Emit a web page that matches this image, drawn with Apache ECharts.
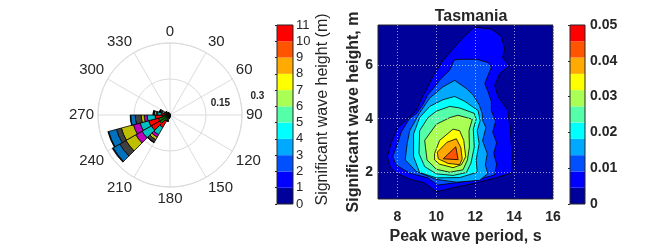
<!DOCTYPE html>
<html><head><meta charset="utf-8">
<script src="https://cdn.jsdelivr.net/npm/echarts@6/dist/echarts.min.js"></script>
<style>html,body{margin:0;padding:0;background:#fff}#c{width:664px;height:250px}</style>
</head><body><div id="c"></div>
<script>
const FF = '"Liberation Sans", Arial, sans-serif';
const TXT = '#262626';

// ---- wave rose data: 15-degree direction bins (start bearing), stacked by Hs class
const dirBins = ['0','15','30','45','60','75','90','105','120','135','150','165','180','195','210','225','240','255','270','285','300','315','330','345'];
const hs01 = [0.001,0.001,0.001,0.001,0.001,0.001,0.001,0.001,0.001,0.001,0.001,0.001,0.001,0.002,0.002,0.003,0.003,0.003,0.002,0.001,0.001,0.001,0.001,0.001];
const hs12 = [0.001,0.001,0.001,0.001,0.001,0.001,0.001,0.001,0.001,0.002,0.002,0.003,0.005,0.008,0.028,0.047,0.047,0.030,0.020,0.012,0.006,0.004,0.003,0.002];
const hs23 = [0.001,0,0,0,0,0,0,0,0,0.001,0.001,0.002,0.003,0.006,0.030,0.040,0.042,0.029,0.015,0.012,0.005,0.003,0.002,0.001];
const hs34 = [0,0,0,0,0,0,0,0,0,0,0,0.001,0.002,0.005,0.035,0.045,0.037,0.033,0.015,0.010,0.004,0.002,0.001,0.001];
const hs45 = [0,0,0,0,0,0,0,0,0,0,0,0,0.001,0.003,0.012,0.030,0.029,0.0125,0.005,0.003,0.002,0.001,0,0];
const hs56 = [0,0,0,0,0,0,0,0,0,0,0,0,0,0.002,0.012,0.047,0.052,0.0125,0.008,0.004,0.002,0.001,0,0];
const hs67 = [0,0,0,0,0,0,0,0,0,0,0,0,0,0.001,0.012,0.030,0.021,0.025,0.004,0.002,0.001,0,0,0];
const hs78 = [0,0,0,0,0,0,0,0,0,0,0,0,0,0,0.002,0.032,0.034,0.019,0.001,0.001,0,0,0,0];
const hs8p = [0,0,0,0,0,0,0,0,0,0,0,0,0,0,0,0.004,0.003,0.002,0,0,0,0,0,0];
const roseSeries = [hs01, hs12, hs23, hs34, hs45, hs56, hs67, hs78, hs8p];
const roseColors = ['#0000ff','#008000','#ff0000','#00bfbf','#bf00bf','#bfbf00','#404040','#0072bd','#1a1a1a'];
const roseAngleTicks = [0,30,60,90,120,150,180,210,240,270,300,330];
const roseRadiusLabels = [0.15, 0.3];

// ---- colour scale
const colormap = ['#00009a','#0000ff','#0050ff','#00a8ff','#00ffff','#55ffaa','#aaff55','#ffff00','#ffaa00','#ff5500','#ff0000'];
const cb1Edges = [0,1,2,3,4,5,6,7,8,9,10,11];
const cb2Edges = [0,0.004545,0.009091,0.013636,0.018182,0.022727,0.027273,0.031818,0.036364,0.040909,0.045455,0.05];

// ---- contour outlines (Tp, Hs), region above each level edge
const lev1 = [[11.96,7.42],[11.4,7.05],[10.76,6.53],[10.33,6.16],[9.9,5.68],[9.56,5.19],[9.21,4.71],[8.96,4.3],[8.5,3.98],[8.01,3.67],[7.67,3.06],[7.48,2.58],[7.62,2.2],[7.94,1.97],[8.6,1.75],[9.4,1.6],[9.98,1.28],[10.5,1.35],[10.84,1.42],[12.06,1.6],[13.09,1.8],[13.86,1.97],[13.9,2.58],[13.8,3.67],[13.65,4.35],[13.17,4.83],[13.0,5.25],[13.26,5.68],[13.77,5.98],[13.4,6.28],[13.52,6.59],[13.35,7.07],[12.83,7.35]];
const lev2 = [[10.93,6.2],[10.67,5.8],[10.24,5.5],[9.98,5.25],[9.56,4.89],[9.3,4.52],[9.0,4.2],[8.61,4.0],[8.19,3.49],[8.0,3.06],[7.76,2.58],[7.93,2.27],[8.61,1.97],[9.56,1.79],[10.07,1.52],[10.93,1.6],[12.0,1.7],[13.0,1.9],[13.1,2.3],[12.95,2.7],[13.1,3.1],[12.9,3.5],[13.05,3.9],[12.83,4.3],[12.83,4.64],[12.66,5.01],[12.49,5.31],[12.66,5.62],[12.83,5.92],[12.66,6.1],[12.06,6.22],[11.37,6.22]];
const lev3 = [[10.94,5.43],[11.54,5.13],[11.89,4.89],[12.2,4.52],[12.35,4.22],[12.4,3.91],[12.55,3.67],[12.38,3.18],[12.62,2.7],[12.52,2.27],[12.65,1.95],[12.23,1.7],[11.03,1.63],[10.0,1.73],[8.97,2.03],[8.4,2.46],[8.5,3.07],[8.63,3.55],[9.14,4.22],[9.66,4.77],[10.34,5.19]];
const lev4 = [[10.94,4.83],[11.46,4.65],[12.15,4.3],[12.25,3.92],[12.1,3.55],[12.2,3.07],[12.05,2.46],[12.1,2.0],[11.2,1.8],[10.0,1.79],[9.14,1.99],[8.83,2.58],[8.83,3.43],[9.14,4.04],[9.66,4.46],[10.34,4.71]];
const lev5 = [[10.69,4.46],[11.2,4.40],[11.95,4.2],[12.05,3.98],[11.9,3.61],[11.95,2.94],[11.78,2.34],[11.55,1.99],[10.86,1.88],[10.0,1.94],[9.4,2.21],[9.11,2.70],[9.14,3.55],[9.57,4.04],[10.0,4.28]];
const lev6 = [[11.11,4.13],[11.85,3.98],[11.68,3.55],[11.7,2.94],[11.6,2.46],[11.37,2.09],[10.69,2.0],[10.0,2.11],[9.52,2.46],[9.4,3.19],[10.0,3.79],[10.69,4.04]];
const lev7 = [[10.86,3.61],[11.2,3.55],[11.41,3.19],[11.51,2.58],[11.29,2.28],[10.86,2.17],[10.17,2.3],[9.91,2.46],[9.91,2.70],[10.17,3.19]];
const lev8 = [[11.03,3.25],[11.26,2.92],[11.33,2.5],[11.2,2.28],[10.6,2.33],[10.1,2.5],[10.05,2.75],[10.55,3.12]];
const lev9 = [[11.0,2.95],[11.12,2.47],[10.35,2.5]];
const contourLevels = [lev1, lev2, lev3, lev4, lev5, lev6, lev7, lev8, lev9];
const xTicks = [8,10,12,14,16];
const yTicks = [2,4,6];

function cbSeries(edges, xi) {
  return {
    type:'custom', xAxisIndex:xi, yAxisIndex:xi, silent:true,
    data: edges.slice(0,-1).map((e,i)=>[edges[i], edges[i+1]]),
    renderItem:function(params, api){
      const i = params.dataIndex;
      const a = api.coord([0, edges[i]]), b = api.coord([1, edges[i+1]]);
      return {type:'rect', shape:{x:a[0], y:b[1], width:b[0]-a[0], height:a[1]-b[1]}, style:{fill:colormap[i]}};
    }
  };
}

const option = {
  animation:false,
  backgroundColor:'#ffffff',
  title:{text:'Tasmania', left:466, top:4, textAlign:'center', textStyle:{fontSize:16, fontWeight:'bold', color:TXT, fontFamily:FF}},
  polar:[{center:[170,115], radius:72},{center:[170,115], radius:72}],
  angleAxis:[
    {polarIndex:0, type:'value', min:0, max:360, interval:30, startAngle:90, clockwise:true,
     axisLine:{show:true, lineStyle:{color:'#dcdcdc', width:1}}, axisTick:{show:false},
     splitLine:{show:true, lineStyle:{color:'#dcdcdc', width:1}},
     axisLabel:{margin:4, color:TXT, fontSize:15, fontFamily:FF, formatter:function(v){return roseAngleTicks.indexOf(v)>=0?String(v):'';}}},
    {polarIndex:1, type:'category', data:dirBins, startAngle:90, clockwise:true, show:false}
  ],
  radiusAxis:[
    {polarIndex:0, type:'value', min:0, max:0.3, interval:0.15, axisLine:{show:false}, axisTick:{show:false}, axisLabel:{show:false},
     splitLine:{show:true, lineStyle:{color:'#dcdcdc', width:1}}},
    {polarIndex:1, type:'value', min:0, max:0.3, show:false}
  ],
  grid:[
    {left:277, top:25, width:16, height:179, show:true, z:10, backgroundColor:'transparent', borderColor:TXT, borderWidth:1},
    {left:378, top:25, width:175, height:178, show:true, backgroundColor:colormap[0], borderColor:TXT, borderWidth:1},
    {left:570, top:25, width:15, height:179, show:true, z:10, backgroundColor:'transparent', borderColor:TXT, borderWidth:1}
  ],
  xAxis:[
    {gridIndex:0, type:'value', min:0, max:1, show:false},
    {gridIndex:1, type:'value', min:7, max:16, z:5,
     axisLine:{show:false}, axisTick:{show:false, customValues:xTicks},
     axisLabel:{customValues:xTicks, margin:11, fontSize:14, fontWeight:'bold', color:TXT, fontFamily:FF},
     splitLine:{show:true, lineStyle:{type:[1,2], color:'rgba(255,255,255,0.6)', width:1}},
     name:'Peak wave period, s', nameLocation:'middle', nameGap:30,
     nameTextStyle:{fontSize:16, fontWeight:'bold', color:TXT, fontFamily:FF}},
    {gridIndex:2, type:'value', min:0, max:1, show:false}
  ],
  yAxis:[
    {gridIndex:0, type:'value', min:0, max:11, interval:1, position:'right',
     axisLine:{show:false}, axisTick:{show:true, inside:true, length:2, lineStyle:{color:TXT}},
     axisLabel:{margin:3, fontSize:13, color:TXT, fontFamily:FF}, splitLine:{show:false},
     name:'Significant wave height (m)', nameLocation:'middle', nameRotate:90, nameGap:19,
     nameTextStyle:{fontSize:16, color:TXT, fontFamily:FF, padding:[0,0,0,10]}},
    {gridIndex:1, type:'value', min:1, max:7.5, z:5,
     axisLine:{show:false}, axisTick:{show:false, customValues:yTicks},
     axisLabel:{customValues:yTicks, margin:5, fontSize:14, fontWeight:'bold', color:TXT, fontFamily:FF},
     splitLine:{show:true, lineStyle:{type:[1,2], color:'rgba(255,255,255,0.6)', width:1}},
     name:'Significant wave height, m', nameLocation:'middle', nameGap:12,
     nameTextStyle:{fontSize:16, fontWeight:'bold', color:TXT, fontFamily:FF}},
    {gridIndex:2, type:'value', min:0, max:0.05, interval:0.01, position:'right',
     axisLine:{show:false}, axisTick:{show:true, inside:true, length:2, lineStyle:{color:TXT}},
     axisLabel:{margin:5, fontSize:14, fontWeight:'bold', color:TXT, fontFamily:FF,
       formatter:function(v){return v===0?'0':v.toFixed(2);}}, splitLine:{show:false}}
  ],
  series: [
    ...roseSeries.map(function(d,k){return {type:'bar', coordinateSystem:'polar', polarIndex:1, stack:'rose', data:d,
      barCategoryGap:'0%', itemStyle:{color:roseColors[k], borderColor:'#000', borderWidth:0.8}, silent:true};}),
    cbSeries(cb1Edges, 0),
    {type:'custom', xAxisIndex:1, yAxisIndex:1, silent:true,
     data: contourLevels.map(function(p,i){return [i];}),
     renderItem:function(params, api){
       const i = params.dataIndex;
       const pts = contourLevels[i].map(function(pt){return api.coord(pt);});
       return {type:'polygon', shape:{points:pts}, style:{fill:colormap[i+1], stroke:'#000', lineWidth:0.8}};
     }},
    cbSeries(cb2Edges, 2)
  ]
};
const chart = echarts.init(document.getElementById('c'));
chart.setOption(option);
const g = roseRadiusLabels.map(function(v){
  const p = chart.convertToPixel({polarIndex:0}, [v*1.12, 80]);
  return {type:'text', x:p[0]+1, y:p[1]-5, style:{text:String(v), font:'bold 10px "Liberation Sans", Arial', fill:TXT, align:'left', verticalAlign:'middle'}};
});
chart.setOption({graphic:g});
</script></body></html>
